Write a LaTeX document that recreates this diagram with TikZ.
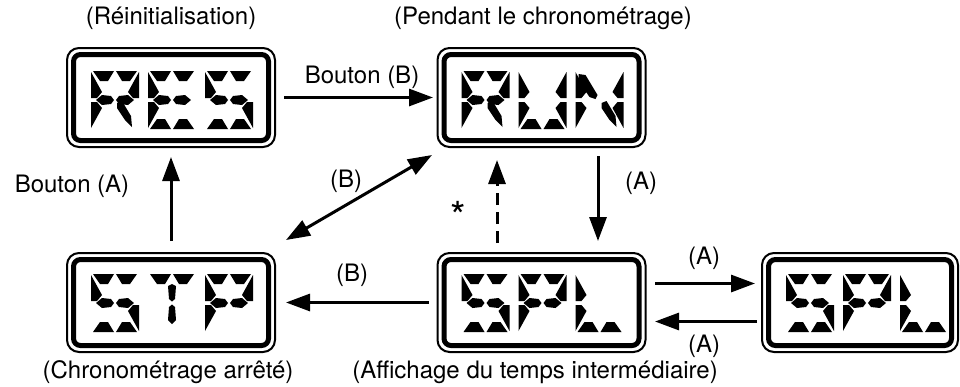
\documentclass[tikz,border=0pt]{standalone}
\usepackage{fontspec}
\setmainfont{TeX Gyre Heros}
\usetikzlibrary{arrows.meta}
\tikzset{
  pics/sga1/.style={code={\fill (2,0)--(23,0)--(17,10)--(9,10)--cycle;}},
  pics/sga2/.style={code={\fill (46,0)--(25,0)--(31,10)--(39,10)--cycle;}},
  pics/sgd1/.style={code={\fill (2,58)--(23,58)--(17,48)--(9,48)--cycle;}},
  pics/sgd2/.style={code={\fill (46,58)--(25,58)--(31,48)--(39,48)--cycle;}},
  pics/sgf/.style={code={\fill (0,1)--(11,21)--(6,27)--(0,27)--cycle;}},
  pics/sge/.style={code={\fill (0,57)--(11,37)--(6,31)--(0,31)--cycle;}},
  pics/sgb/.style={code={\fill (48,1)--(37,21)--(42,27)--(48,27)--cycle;}},
  pics/sgc/.style={code={\fill (48,57)--(37,37)--(42,31)--(48,31)--cycle;}},
  pics/sgg1/.style={code={\fill (5,29)--(11,24)--(20,25)--(23,29)--(20,33)--(11,34)--cycle;}},
  pics/sgg2/.style={code={\fill (43,29)--(37,24)--(28,25)--(25,29)--(28,33)--(37,34)--cycle;}},
  pics/sgi/.style={code={\fill (20,12)--(24,10)--(28,12)--(27,25)--(24,27.5)--(21,25)--cycle;}},
  pics/sgl/.style={code={\fill (24,30.5)--(27,33)--(28,46)--(24,50)--(20,46)--(21,33)--cycle;}},
  pics/sgh/.style={code={\fill (3,3)--(10,4)--(22,24)--(20,28)--(14,26)--(3,10)--cycle;}},
  pics/sgm/.style={code={\fill (26,32)--(31,30)--(40,45)--(41,56)--(34,49)--(26,37)--cycle;}},
  lcdframe/.style={draw, line width=2pt, rounded corners=12pt, minimum height=99pt,
    inner sep=0pt, outer sep=0pt},
  lcdinner/.style={line width=5pt, rounded corners=7pt},
  tipA/.tip={Triangle[length=24pt,width=17pt]},
  arr/.style={line width=3pt, -tipA},
  arrboth/.style={line width=3pt, tipA-tipA},
  lbl/.style={font=\fontsize{24}{28}\selectfont, inner sep=0pt},
  starlbl/.style={font=\fontsize{40}{40}\selectfont, inner sep=0pt, anchor=base}
}
\newcommand\lcdchar[3]{\foreach \s in #3 {\pic at (#1,#2) {sg\s};}}
\newcommand\lcdbox[4]{%
  \node[lcdframe, minimum width=#4pt] (#1) at (#2,#3) {};
  \draw[lcdinner] ([shift={(6.5pt,6.5pt)}]#1.south west) rectangle ([shift={(-6.5pt,-6.5pt)}]#1.north east);
}
\def\LR{a1,a2,f,b,g1,g2,e,m}
\def\LE{a1,a2,f,e,g1,g2,d1,d2}
\def\LS{a1,a2,f,g1,g2,c,d1,d2}
\def\LU{f,e,b,c,d1,d2}
\def\LN{f,e,h,m,b,c}
\def\LT{a1,a2,i,l}
\def\LP{a1,a2,f,b,g1,g2,e}
\def\LL{f,e,d1,d2}
\begin{document}
\begin{tikzpicture}[x=1pt,y=-1pt]
\useasboundingbox (0,0) rectangle (960,386);
% boxes
\lcdbox{res}{171}{97.5}{208}
\lcdbox{run}{541.5}{97.5}{208}
\lcdbox{stp}{171}{302.5}{208}
\lcdbox{splA}{541.5}{302.5}{208}
\lcdbox{splB}{860}{302.5}{196}
% characters
\lcdchar{91}{71}{\LR}\lcdchar{148}{71}{\LE}\lcdchar{205}{71}{\LS}
\lcdchar{461.5}{71}{\LR}\lcdchar{518.5}{71}{\LU}\lcdchar{575.5}{71}{\LN}
\lcdchar{91}{274}{\LS}\lcdchar{148}{274}{\LT}\lcdchar{205}{274}{\LP}
\lcdchar{461.5}{274}{\LS}\lcdchar{518.5}{274}{\LP}\lcdchar{575.5}{274}{\LL}
\lcdchar{786}{274}{\LS}\lcdchar{843}{274}{\LP}\lcdchar{900}{274}{\LL}
% connectors
\draw[arr, shorten <=9pt, shorten >=4.5pt] (res.east) -- (run.west);
\draw[arr, shorten <=12pt, shorten >=10pt] (stp.north) -- (res.south);
\draw[arrboth] ([shift={(11pt,13pt)}]stp.north east) -- ([shift={(-5.5pt,-8pt)}]run.south west);
\draw[arr, shorten <=9pt, shorten >=12pt] ([xshift=56.5pt]run.south) -- ([xshift=56.5pt]splA.north);
\draw[arr, dash pattern=on 12pt off 7pt, shorten <=10pt, shorten >=13pt] ([xshift=-44.5pt]splA.north) -- ([xshift=-44.5pt]run.south);
\draw[arr, shorten <=9pt, shorten >=11pt] (splA.west) -- (stp.east);
\draw[arr, shorten <=9.5pt, shorten >=7pt] ([yshift=19pt]splA.east) -- ([yshift=19pt]splB.west);
\draw[arr, shorten <=5pt, shorten >=9.5pt] ([yshift=-19pt]splB.west) -- ([yshift=-19pt]splA.east);
% labels
\node[lbl] (t1) at (171,18) {(Réinitialisation)};
\node[lbl] (t2) at (543,18) {(Pendant le chronométrage)};
\node[lbl] (t3) at (168,372) {(Chronométrage arrêté)};
\node[lbl] (t4) at (535,372) {(Affichage du temps intermédiaire)};
\node[lbl] (l1) at (362,77) {Bouton (B)};
\node[lbl] (l2) at (72,186) {Bouton (A)};
\node[lbl] (l3) at (346,181) {(B)};
\node[lbl] (l4) at (641,183) {(A)};
\node[starlbl] (l5) at (458,230) {*};
\node[lbl] (l6) at (352,275) {(B)};
\node[lbl] (l7) at (704,258) {(A)};
\node[lbl] (l8) at (704,346) {(A)};
\end{tikzpicture}
\end{document}
